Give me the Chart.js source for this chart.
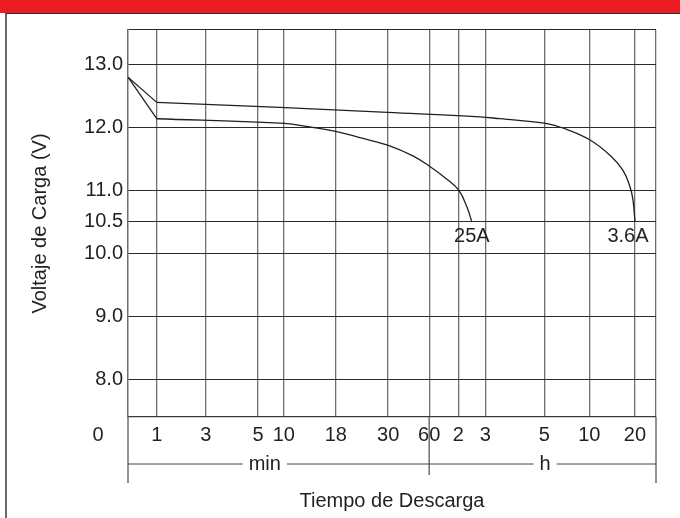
<!DOCTYPE html>
<html lang="es">
<head>
    <meta charset="UTF-8">
    <title>Voltaje de Carga vs Tiempo de Descarga</title>
    <script src="https://cdn.jsdelivr.net/npm/chart.js"></script>
    <style>
        body {
            margin: 0;
            background: #ffffff;
            width: 680px;
            height: 518px;
            overflow: hidden;
            position: relative;
        }
        .top-bar {
            position: absolute;
            left: 0; top: 0;
            width: 680px;
            height: 13px;
            background: #ed1c24;
        }
        .frame {
            position: absolute;
            left: 5px; top: 13px;
            width: 700px; height: 600px;
            border-top: 1.5px solid #2b2b2b;
            border-left: 2px solid #6a6a6a;
        }
        #chart {
            position: absolute;
            left: 0; top: 0;
        }
    </style>
</head>
<body>
    <div class="top-bar"></div>
    <div class="frame"></div>
    <canvas id="chart" width="680" height="518"></canvas>

    <script>
        // x axis is a non-uniform time axis: positions 0..100 along the axis
        const xTickPos    = [0, 5.44, 14.72, 24.64, 29.5, 39.36, 49.27, 57.04, 62.54, 67.65, 78.83, 87.36, 96.02, 100];
        const xTickLabels = ['', '1', '3', '5', '10', '18', '30', '60', '2', '3', '5', '10', '20', ''];
        const yTicks      = [7.4, 8, 9, 10, 10.5, 11, 12, 13, 13.55];

        // 3.6A discharge curve
        const curve36X = [0, 5.44, 28.75, 49.16, 66.65, 70.44, 78.83, 83.13, 87.36, 91.28, 93.75, 95.07, 95.64, 96.02];
        const curve36Y = [12.80, 12.40, 12.32, 12.24, 12.17, 12.14, 12.07, 11.97, 11.81, 11.56, 11.32, 11.06, 10.85, 10.50];

        // 25A discharge curve
        const curve25X = [0, 5.44, 28.75, 34.4, 39.30, 43.90, 49.16, 53.95, 57.04, 60.40, 62.67, 64.18, 65.13];
        const curve25Y = [12.80, 12.14, 12.07, 12.01, 11.94, 11.84, 11.72, 11.55, 11.39, 11.18, 11.00, 10.74, 10.50];

        const curveNames = ['25A', '3.6A'];

        const textColor = '#231f20';
        const fontFamily = '"Liberation Sans", Arial, sans-serif';

        function toPoints(xs, ys, from, to) {
            const pts = [];
            for (let i = from; i < to; i++) pts.push({ x: xs[i], y: ys[i] });
            return pts;
        }

        // each curve: straight initial drop, then a smooth tail
        function curveSets(name, xs, ys) {
            const base = {
                borderColor: textColor,
                borderWidth: 1.3,
                pointRadius: 0,
                fill: false
            };
            return [
                Object.assign({}, base, { label: name + ' start', data: toPoints(xs, ys, 0, 2), tension: 0 }),
                Object.assign({}, base, { label: name, curveLabel: name, data: toPoints(xs, ys, 1, xs.length), tension: 0.4 })
            ];
        }

        // extra drawing below the plot: min / h bands, borders, curve labels
        const extrasPlugin = {
            id: 'extras',
            afterDraw(chart) {
                const c = chart.ctx;
                const area = chart.chartArea;
                const xs = chart.scales.x;
                const bandY = area.bottom + 47;
                const xLeft = xs.getPixelForValue(0);
                const xRight = xs.getPixelForValue(100);
                const x60 = xs.getPixelForValue(57.04);

                c.save();
                c.strokeStyle = '#5a5a5a';
                c.lineWidth = 1.3;
                c.beginPath();
                c.moveTo(xLeft, area.bottom); c.lineTo(xLeft, area.bottom + 66);
                c.moveTo(xRight, area.bottom); c.lineTo(xRight, area.bottom + 66);
                c.moveTo(x60, area.bottom); c.lineTo(x60, area.bottom + 58);
                c.stroke();

                c.strokeStyle = '#444';
                c.lineWidth = 1;
                c.beginPath();
                c.moveTo(xLeft, bandY); c.lineTo(xRight, bandY);
                c.stroke();

                c.font = '20px ' + fontFamily;
                c.textAlign = 'center';
                c.textBaseline = 'middle';
                [['min', 25.9], ['h', 79.0]].forEach(([t, v]) => {
                    const px = xs.getPixelForValue(v);
                    const w = c.measureText(t).width + 12;
                    c.fillStyle = '#ffffff';
                    c.fillRect(px - w / 2, bandY - 3, w, 6);
                    c.fillStyle = textColor;
                    c.fillText(t, px, bandY);
                });

                // origin label
                c.fillText('0', area.left - 30, area.bottom + 18);

                // curve end labels
                chart.data.datasets.forEach((ds, i) => {
                    if (!ds.curveLabel) return;
                    const meta = chart.getDatasetMeta(i);
                    const last = meta.data[meta.data.length - 1];
                    const dx = ds.curveLabel === '25A' ? 0 : -7;
                    c.fillText(ds.curveLabel, last.x + dx, last.y + 15);
                });
                c.restore();
            }
        };

        const ctx = document.getElementById('chart').getContext('2d');
        const chart = new Chart(ctx, {
            type: 'line',
            data: {
                datasets: [].concat(
                    curveSets(curveNames[0], curve25X, curve25Y),
                    curveSets(curveNames[1], curve36X, curve36Y)
                )
            },
            options: {
                responsive: false,
                animation: false,
                layout: { padding: { top: 30, right: 24, left: 0, bottom: 0 } },
                plugins: {
                    legend: { display: false },
                    tooltip: { enabled: false }
                },
                scales: {
                    x: {
                        type: 'linear',
                        min: 0,
                        max: 100,
                        afterBuildTicks: (scale) => {
                            scale.ticks = xTickPos.map(v => ({ value: v }));
                        },
                        afterFit: (scale) => { scale.height = 101; },
                        ticks: {
                            autoSkip: false,
                            maxRotation: 0,
                            padding: 6,
                            color: textColor,
                            font: { family: fontFamily, size: 20 },
                            callback: (value, index) => xTickLabels[index]
                        },
                        grid: { color: '#6e6e6e', lineWidth: 1.3, drawTicks: false },
                        border: { color: '#3a3a3a', width: 1.3 },
                        title: {
                            display: true,
                            text: 'Tiempo de Descarga',
                            color: textColor,
                            font: { family: fontFamily, size: 20 },
                            padding: { top: 0, bottom: 5 }
                        }
                    },
                    y: {
                        min: 7.4,
                        max: 13.55,
                        afterBuildTicks: (scale) => {
                            scale.ticks = yTicks.map(v => ({ value: v }));
                        },
                        afterFit: (scale) => { scale.width = 128; },
                        ticks: {
                            padding: 5,
                            color: textColor,
                            font: { family: fontFamily, size: 20 },
                            callback: (value, index) =>
                                (index === 0 || index === yTicks.length - 1) ? '' : value.toFixed(1)
                        },
                        grid: { color: '#2a2a2a', lineWidth: 1.1, drawTicks: false },
                        border: { color: '#6e6e6e', width: 1.3 },
                        title: {
                            display: true,
                            text: 'Voltaje de Carga (V)',
                            color: textColor,
                            font: { family: fontFamily, size: 20 },
                            padding: { top: 28, bottom: 0 }
                        }
                    }
                }
            },
            plugins: [extrasPlugin]
        });
    </script>
</body>
</html>
